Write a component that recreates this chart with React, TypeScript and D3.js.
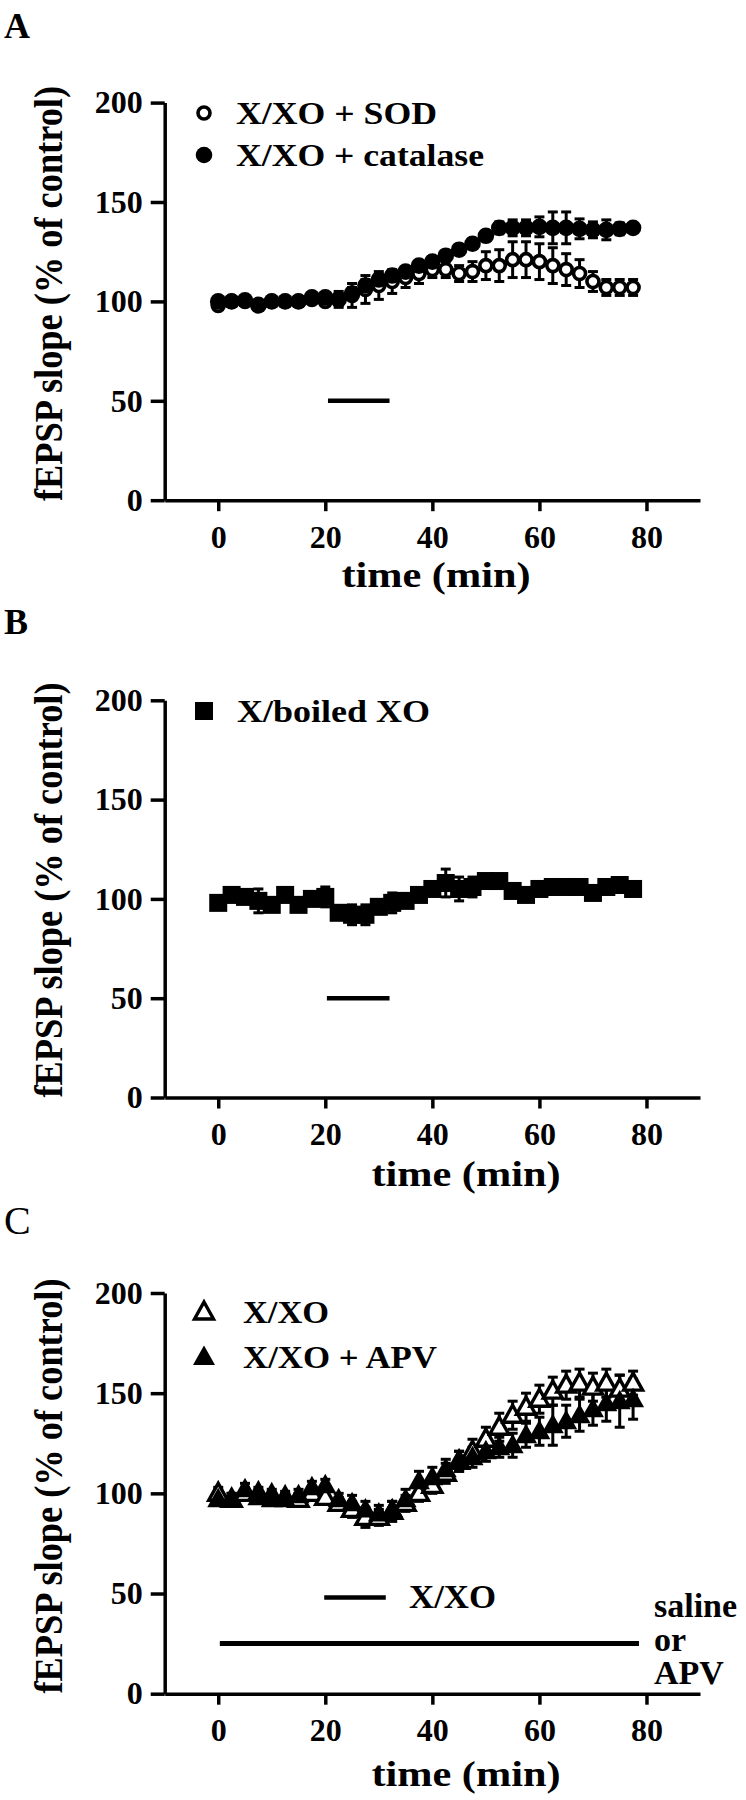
import React, { useEffect, useRef } from 'react';
import * as d3 from 'd3';

// sampling times (min), shared by every series
const times = [0, 2.5, 5, 7.5, 10, 12.5, 15, 17.5, 20, 22.5, 25, 27.5, 30, 32.5, 35, 37.5,
  40, 42.5, 45, 47.5, 50, 52.5, 55, 57.5, 60, 62.5, 65, 67.5, 70, 72.5, 75, 77.5];

// panel A
const sodMean = [98, 100, 100, 98.5, 100, 100, 100, 101, 100, 101, 103, 106, 108, 110, 112, 114,
  116, 116, 114, 115, 118, 118, 121, 121, 120, 118, 116, 114, 110, 107, 107, 107];
const sodSem = [2, 2, 2, 2, 2, 2, 2, 2, 2, 4, 6, 7, 7, 6, 5, 5,
  4, 4, 4, 5, 7, 8, 9, 9, 9, 9, 8, 7, 5, 4, 4, 4];
const catMean = [100, 100, 100.5, 98, 100, 100, 100, 102, 102, 101, 104, 108, 111, 113, 115, 118,
  120, 123, 126, 129, 133, 137, 137, 137, 137.5, 137, 137, 136.5, 136, 136, 136.5, 137];
const catSem = [1.5, 1.5, 1.5, 1.5, 1.5, 1.5, 1.5, 1.5, 2, 3, 3, 3, 2.5, 2.5, 2.5, 2.5,
  2.5, 2.5, 2.5, 2.5, 2.5, 3, 4, 4, 5, 8, 8, 5, 4, 5, 3, 2];

// panel B
const boiledMean = [98, 102, 101, 99, 97, 102, 97, 100, 101, 93, 92, 92, 96, 98, 99, 102,
  105, 108, 105, 106, 109, 109, 104, 102, 105, 106, 106, 106, 103, 106, 107, 105];
const boiledSem = [2, 2, 2, 6, 2, 2, 2, 2, 5, 2, 5, 5, 3, 5, 2, 2,
  2, 7, 6, 5, 2, 2, 2, 2, 2, 2, 2, 2, 2, 2, 2, 2];

// panel C
const xxoMean = [100, 97, 100, 100, 99, 98, 97, 100, 98, 95, 92, 88, 88, 91, 95, 100,
  104, 110, 116, 121, 127, 133, 139, 143, 147, 151, 154, 155, 153, 155, 152, 155];
const xxoSem = [3, 3, 3, 3, 3, 3, 3, 3, 3, 3, 4, 5, 4, 5, 4, 4,
  4, 5, 5, 6, 6, 7, 7, 7, 7, 7, 7, 7, 7, 7, 7, 6];
const apvMean = [97, 97, 102, 98, 97, 97, 99, 103, 104, 97, 95, 92, 90, 92, 97, 106,
  108, 112, 116, 118, 121, 123, 124, 129, 131, 134, 136, 139, 142, 145, 146, 147];
const apvSem = [3, 3, 3, 3, 3, 3, 3, 3, 3, 3, 4, 4, 4, 4, 5, 5,
  5, 5, 5, 5, 5, 5, 6, 6, 7, 10, 8, 8, 8, 9, 13, 10];

// treatment bars: [start, end, level]
const xxoBarA = [20.5, 32, 50];
const xxoBarB = [20.3, 32, 50];
const xxoBarC = [19.8, 31.3, 48];
const salineBarC = [0.3, 78.6, 25];

const xTicks = [0, 20, 40, 60, 80];
const yTicks = [0, 50, 100, 150, 200];
const salineLines = ['saline', 'or', 'APV'];

const FONT = '"Liberation Serif", "Times New Roman", Times, serif';

const drawMarker = (g, kind, cx, cy) => {
  if (kind === 'circleOpen') {
    g.append('circle').attr('cx', cx).attr('cy', cy).attr('r', 6)
      .attr('fill', '#fff').attr('stroke', '#000').attr('stroke-width', 3.6);
  } else if (kind === 'circleFilled') {
    g.append('circle').attr('cx', cx).attr('cy', cy).attr('r', 8.3).attr('fill', '#000');
  } else if (kind === 'square') {
    g.append('rect').attr('x', cx - 9).attr('y', cy - 9).attr('width', 18).attr('height', 18).attr('fill', '#000');
  } else if (kind === 'triOpen') {
    g.append('path').attr('d', `M${cx},${cy - 10}L${cx + 9.5},${cy + 7}L${cx - 9.5},${cy + 7}Z`)
      .attr('fill', '#fff').attr('stroke', '#000').attr('stroke-width', 3.4).attr('stroke-linejoin', 'miter');
  } else if (kind === 'triFilled') {
    g.append('path').attr('d', `M${cx},${cy - 11.5}L${cx + 11},${cy + 8}L${cx - 11},${cy + 8}Z`).attr('fill', '#000');
  }
};

const panels = [
  {
    letter: 'A', letterBold: true, letterY: 38, y0: 500.2, y200: 102.6,
    series: [
      { mean: sodMean, sem: sodSem, marker: 'circleOpen' },
      { mean: catMean, sem: catSem, marker: 'circleFilled' },
    ],
    legend: [
      { marker: 'circleOpen', label: 'X/XO + SOD', y: 113, len: 201 },
      { marker: 'circleFilled', label: 'X/XO + catalase', y: 155, len: 248 },
    ],
    legendTextX: 236,
    bars: [xxoBarA],
    xTitleX: 436, xTitleY: 587, yTitleY: 293.5,
  },
  {
    letter: 'B', letterBold: true, letterY: 634, y0: 1097.5, y200: 700.3,
    series: [{ mean: boiledMean, sem: boiledSem, marker: 'square' }],
    legend: [{ marker: 'square', label: 'X/boiled XO', y: 711, len: 193 }],
    legendTextX: 237,
    bars: [xxoBarB],
    xTitleX: 466, xTitleY: 1186, yTitleY: 890,
  },
  {
    letter: 'C', letterBold: false, letterY: 1234, y0: 1693.7, y200: 1293,
    series: [
      { mean: xxoMean, sem: xxoSem, marker: 'triOpen' },
      { mean: apvMean, sem: apvSem, marker: 'triFilled' },
    ],
    legend: [
      { marker: 'triOpen', label: 'X/XO', y: 1312, len: 86 },
      { marker: 'triFilled', label: 'X/XO + APV', y: 1357, len: 194 },
    ],
    legendTextX: 243,
    bars: [xxoBarC, salineBarC],
    xTitleX: 466, xTitleY: 1786, yTitleY: 1486,
  },
];

const App = () => {
  const svgRef = useRef(null);

  useEffect(() => {
    const svg = d3.select(svgRef.current);
    svg.selectAll('*').remove();

    panels.forEach((p) => {
      const x = d3.scaleLinear().domain([-10, 90]).range([164.7, 700]);
      const y = d3.scaleLinear().domain([0, 200]).range([p.y0, p.y200]);
      const g = svg.append('g');

      // panel letter
      g.append('text').attr('x', 4).attr('y', p.letterY)
        .attr('font-family', FONT).attr('font-size', p.letterBold ? 36 : 40)
        .attr('font-weight', p.letterBold ? 'bold' : 'normal').text(p.letter);

      // axes
      const yAxis = g.append('g').attr('transform', `translate(${x(-10)},0)`)
        .call(d3.axisLeft(y).tickValues(yTicks).tickSize(14).tickSizeOuter(0).tickPadding(8));
      const xAxis = g.append('g').attr('transform', `translate(0,${p.y0})`)
        .call(d3.axisBottom(x).tickValues(xTicks).tickSize(11).tickSizeOuter(0).tickPadding(14));
      [yAxis, xAxis].forEach((a) => {
        a.attr('font-family', FONT).attr('font-size', 32).attr('font-weight', 'bold');
        a.selectAll('path, line').attr('stroke', '#000').attr('stroke-width', 3.5);
        a.selectAll('text').attr('fill', '#000');
      });

      // axis titles
      g.append('text').attr('x', p.xTitleX).attr('y', p.xTitleY).attr('text-anchor', 'middle')
        .attr('font-family', FONT).attr('font-size', 35).attr('font-weight', 'bold')
        .attr('textLength', 189).attr('lengthAdjust', 'spacingAndGlyphs')
        .text('time (min)');
      g.append('text').attr('transform', `translate(62,${p.yTitleY}) rotate(-90)`)
        .attr('text-anchor', 'middle')
        .attr('font-family', FONT).attr('font-size', 40).attr('font-weight', 'bold')
        .attr('textLength', 415).attr('lengthAdjust', 'spacingAndGlyphs')
        .text('fEPSP slope (% of control)');

      // treatment bars
      p.bars.forEach((b) => {
        g.append('line').attr('x1', x(b[0])).attr('x2', x(b[1]))
          .attr('y1', y(b[2])).attr('y2', y(b[2]))
          .attr('stroke', '#000').attr('stroke-width', b[2] < 40 ? 5 : 4.5);
      });

      // error bars
      const eb = g.append('g').attr('stroke', '#000').attr('stroke-width', 3);
      p.series.forEach((s) => {
        times.forEach((t, i) => {
          const cx = x(t);
          const hi = y(s.mean[i] + s.sem[i]);
          const lo = y(s.mean[i] - s.sem[i]);
          eb.append('line').attr('x1', cx).attr('x2', cx).attr('y1', hi).attr('y2', lo);
          eb.append('line').attr('x1', cx - 5).attr('x2', cx + 5).attr('y1', hi).attr('y2', hi);
          eb.append('line').attr('x1', cx - 5).attr('x2', cx + 5).attr('y1', lo).attr('y2', lo);
        });
      });

      // markers
      p.series.forEach((s) => {
        const mg = g.append('g');
        times.forEach((t, i) => drawMarker(mg, s.marker, x(t), y(s.mean[i])));
      });

      // legend
      p.legend.forEach((l) => {
        drawMarker(g, l.marker, 204, l.y);
        g.append('text').attr('x', p.legendTextX).attr('y', l.y + 10.5)
          .attr('font-family', FONT).attr('font-size', 32).attr('font-weight', 'bold')
          .attr('textLength', l.len).attr('lengthAdjust', 'spacingAndGlyphs')
          .text(l.label);
      });
    });

    // extra labels in panel C
    const lab = svg.append('g').attr('font-family', FONT).attr('font-weight', 'bold').attr('font-size', 34);
    lab.append('text').attr('x', 409).attr('y', 1607.5).attr('textLength', 87)
      .attr('lengthAdjust', 'spacingAndGlyphs').text('X/XO');
    const sal = lab.append('text').attr('x', 654).attr('y', 1617);
    salineLines.forEach((s, i) => {
      sal.append('tspan').attr('x', 654).attr('dy', i === 0 ? 0 : 33.5).text(s);
    });
  }, []);

  return (
    <svg
      ref={svgRef}
      width={746}
      height={1800}
      style={{ position: 'absolute', left: 0, top: 0, background: '#fff' }}
      aria-label="fEPSP slope time courses"
    />
  );
};

export default App;
